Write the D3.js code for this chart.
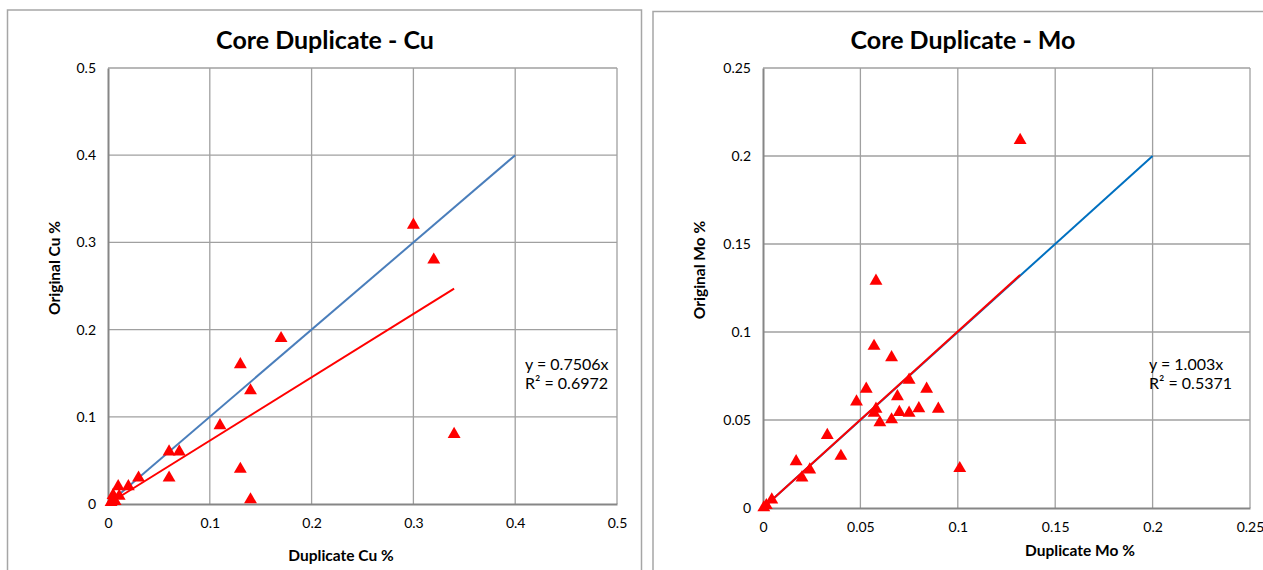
<!DOCTYPE html>
<html><head><meta charset="utf-8">
<script src="https://cdn.jsdelivr.net/npm/d3@7"></script>
<style>
body{margin:0;background:#fff;}
svg{display:block;font-family:Lato,"Open Sans",sans-serif;}
</style></head>
<body><svg id="c" width="1263" height="570"></svg>
<script>
// ---- Data ----
const cuDuplicate = [0.30,0.32,0.17,0.13,0.14,0.11,0.06,0.07,0.06,0.13,0.14,0.03,0.02,0.01,0.011,0.005,0.005,0.007,0.003,0.34];
const cuOriginal  = [0.32,0.28,0.19,0.16,0.13,0.09,0.06,0.06,0.03,0.04,0.005,0.03,0.02,0.02,0.009,0.005,0.01,0.003,0.002,0.08];
const cuTicksX = [0,0.1,0.2,0.3,0.4,0.5];
const cuTicksY = [0,0.1,0.2,0.3,0.4,0.5];
const cuOneToOne = [[0,0],[0.4,0.4]];
const cuTrend = [[0,0],[0.34,0.247]];
const cuLabel = ["y = 0.7506x","R\u00B2 = 0.6972"];

const moDuplicate = [0.132,0.058,0.057,0.066,0.075,0.053,0.084,0.048,0.069,0.058,0.057,0.070,0.075,0.080,0.090,0.060,0.066,0.033,0.040,0.017,0.024,0.020,0.101,0.0045,0.0017,0.0004];
const moOriginal  = [0.209,0.129,0.092,0.0855,0.0727,0.0676,0.0676,0.0604,0.0634,0.0563,0.054,0.0544,0.054,0.0565,0.0563,0.0485,0.0502,0.0413,0.0295,0.0264,0.0217,0.0172,0.0225,0.0047,0.0015,0.0002];
const moTicksX = [0,0.05,0.1,0.15,0.2,0.25];
const moTicksY = [0,0.05,0.1,0.15,0.2,0.25];
const moOneToOne = [[0,0],[0.2,0.2]];
const moTrend = [[0,0],[0.132,0.1324]];
const moLabel = ["y = 1.003x","R\u00B2 = 0.5371"];

const svg = d3.select("#c");

function chart(o){
  const g = svg.append("g");
  g.append("rect").attr("x",o.frame[0]).attr("y",o.frame[1]).attr("width",o.frame[2]).attr("height",o.frame[3])
    .attr("fill","#fff").attr("stroke","#a6a6a6").attr("stroke-width",1.5);
  const x = d3.scaleLinear().domain([0,o.xmax]).range([o.px0,o.px1]);
  const y = d3.scaleLinear().domain([0,o.ymax]).range([o.py0,o.py1]);
  g.append("g").selectAll("line").data(o.tx.slice(1)).join("line")
    .attr("x1",d=>x(d)).attr("x2",d=>x(d)).attr("y1",o.py0).attr("y2",o.py1)
    .attr("stroke","#a0a0a0").attr("stroke-width",1.3);
  g.append("g").selectAll("line").data(o.ty.slice(1)).join("line")
    .attr("y1",d=>y(d)).attr("y2",d=>y(d)).attr("x1",o.px0).attr("x2",o.px1)
    .attr("stroke","#a0a0a0").attr("stroke-width",1.3);
  const ax = g.append("g").attr("transform",`translate(0,${o.py0})`)
    .call(d3.axisBottom(x).tickValues(o.tx).tickFormat(d=>String(+d.toFixed(3))).tickSize(0).tickPadding(o.xpad));
  const ay = g.append("g").attr("transform",`translate(${o.px0},0)`)
    .call(d3.axisLeft(y).tickValues(o.ty).tickFormat(d=>String(+d.toFixed(3))).tickSize(0).tickPadding(o.ypad));
  [ax,ay].forEach(a=>{
    a.select(".domain").attr("stroke","#868686").attr("stroke-width",2);
    a.selectAll("text").attr("font-size",14).attr("fill","#000").attr("font-family","Lato,'Open Sans',sans-serif");
  });
  const line = d3.line().x(d=>x(d[0])).y(d=>y(d[1]));
  g.append("path").attr("d",line(o.one)).attr("fill","none").attr("stroke",o.blue).attr("stroke-width",2);
  g.append("path").attr("d",line(o.trend)).attr("fill","none").attr("stroke","#ff0000").attr("stroke-width",2);
  const tri = d3.symbol().type(d3.symbolTriangle).size(72);
  g.append("g").selectAll("path").data(o.xs.map((v,i)=>[v,o.ys[i]])).join("path")
    .attr("d",tri).attr("transform",d=>`translate(${x(d[0])},${y(d[1])})`).attr("fill","#ff0000");
  g.append("text").attr("x",o.tx0).attr("y",o.ty0).attr("text-anchor","middle")
    .attr("font-size",25).attr("font-weight","bold").text(o.title);
  g.append("text").attr("x",o.xtx).attr("y",o.xty).attr("text-anchor","middle")
    .attr("font-size",15.5).attr("font-weight","bold").text(o.xtitle);
  g.append("text").attr("transform",`translate(${o.ytx},${o.yty}) rotate(-90)`).attr("text-anchor","middle")
    .attr("font-size",15.5).attr("font-weight","bold").text(o.ytitle);
  o.label.forEach((t,i)=>g.append("text").attr("x",o.lx).attr("y",o.ly+i*19).attr("font-size",16).text(t));
}

chart({frame:[7.5,10,634,600],xmax:0.5,ymax:0.5,px0:108,px1:617,py0:504,py1:68,tx:cuTicksX,ty:cuTicksY,
  xpad:14,ypad:12,one:cuOneToOne,trend:cuTrend,blue:"#4a7ebb",xs:cuDuplicate,ys:cuOriginal,
  title:"Core Duplicate - Cu",tx0:325,ty0:49,xtitle:"Duplicate Cu %",xtx:341,xty:561,
  ytitle:"Original Cu %",ytx:60,yty:268,label:cuLabel,lx:525,ly:370});
chart({frame:[653,11.5,640,600],xmax:0.25,ymax:0.25,px0:763,px1:1250,py0:508,py1:68,tx:moTicksX,ty:moTicksY,
  xpad:14,ypad:12,one:moOneToOne,trend:moTrend,blue:"#0070c0",xs:moDuplicate,ys:moOriginal,
  title:"Core Duplicate - Mo",tx0:963,ty0:49,xtitle:"Duplicate Mo %",xtx:1080,xty:556,
  ytitle:"Original Mo %",ytx:705,yty:270,label:moLabel,lx:1149,ly:370});
</script></body></html>
